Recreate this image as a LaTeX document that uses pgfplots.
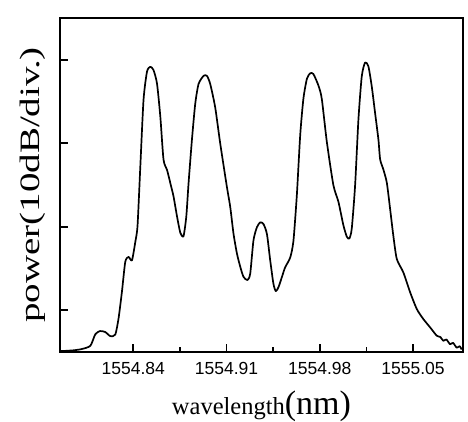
\documentclass[border=0pt]{standalone}
\usepackage{fontspec}
\setmainfont{Liberation Serif}
\setsansfont{Liberation Sans}
\usepackage{pgfplots}
\pgfplotsset{compat=1.18}
\begin{document}
\begin{tikzpicture}
\begin{axis}[
  at={(0,0)}, anchor=south west,
  scale only axis,
  width=403pt, height=334pt,
  xmin=1554.785, xmax=1555.0875,
  ymin=-45, ymax=-5,
  axis line style={line width=2.4pt},
  xtick={1554.84,1554.91,1554.98,1555.05},
  xticklabels={1554.84,1554.91,1554.98,1555.05},
  minor x tick num=1,
  ytick={-40,-30,-20,-10},
  yticklabels={},
  tick align=inside,
  xtick pos=bottom, ytick pos=left,
  major tick length=8pt, minor tick length=5pt,
  tick style={line width=1.6pt, black},
  x tick label style={font=\fontsize{17.5}{17.5}\selectfont\sffamily, yshift=-7pt},
  /pgf/number format/assume math mode=true,
  xlabel={{\fontsize{24.5}{25}\selectfont wavelength}{\fontsize{34}{34}\selectfont(nm)}},
  xlabel style={at={(rel axis cs:0.5,0)}, anchor=base, yshift=-62pt},
  ylabel={\scalebox{1}[0.72]{\fontsize{39}{39}\selectfont power(10dB/div.)}},
  ylabel style={at={(rel axis cs:0,0.5)}, anchor=center, yshift=27pt},
]
\addplot[black, line width=1.7pt, line join=round, smooth, tension=0.4] coordinates {
(1554.785,-44.9) (1554.795,-44.8) (1554.8015,-44.64) (1554.8078,-44.25) (1554.8115,-42.88)
(1554.815,-42.49) (1554.819,-42.61) (1554.8228,-43.10) (1554.8265,-42.91) (1554.829,-40.93)
(1554.8315,-37.77) (1554.834,-34.2) (1554.8365,-33.61) (1554.839,-34.02) (1554.8415,-31.84)
(1554.8432,-29.87) (1554.8453,-22.73) (1554.8477,-14.8) (1554.8503,-11.43) (1554.8528,-10.84)
(1554.8552,-11.24) (1554.8578,-12.84) (1554.8603,-16.81) (1554.8627,-21.96) (1554.8653,-23.17)
(1554.8678,-24.76) (1554.8702,-26.35) (1554.8728,-28.73) (1554.8753,-30.72) (1554.8777,-31.13)
(1554.8798,-28.75) (1554.8815,-24.78) (1554.884,-19.63) (1554.8865,-15.28) (1554.889,-12.9)
(1554.8928,-11.92) (1554.8953,-11.93) (1554.8978,-12.92) (1554.9015,-15.72) (1554.9053,-20.07)
(1554.9103,-25.25) (1554.9128,-27.64) (1554.9152,-30.8) (1554.9178,-33.2) (1554.9203,-34.79)
(1554.9227,-35.99) (1554.9257,-36.39) (1554.9278,-35.6) (1554.9302,-31.64) (1554.9328,-30.06)
(1554.9353,-29.47) (1554.9377,-29.67) (1554.9403,-30.86) (1554.9428,-34.04) (1554.9452,-36.83)
(1554.947,-37.71) (1554.949,-37.23) (1554.9515,-36.05) (1554.954,-34.86) (1554.9578,-33.69)
(1554.9602,-31.71) (1554.9628,-26.15) (1554.9653,-19.02) (1554.9677,-14.67) (1554.9703,-12.29)
(1554.9728,-11.62) (1554.9752,-11.71) (1554.979,-13.1) (1554.9815,-14.69) (1554.9853,-19.86)
(1554.9902,-25.02) (1554.994,-27.02) (1554.9977,-29.81) (1555.0003,-31.2) (1555.0022,-31.4)
(1555.004,-30.22) (1555.0065,-25.06) (1555.009,-17.14) (1555.0115,-11.98) (1555.014,-10.33)
(1555.0165,-10.8) (1555.019,-13.19) (1555.0215,-16.37) (1555.024,-19.56) (1555.0253,-21.94)
(1555.0277,-23.13) (1555.0303,-24.72) (1555.0328,-27.9) (1555.0352,-31.08) (1555.0378,-33.86)
(1555.0427,-35.46) (1555.0478,-37.85) (1555.0528,-39.85) (1555.0577,-41.05) (1555.0628,-42.05)
(1555.0678,-43.05) (1555.0705,-43.2) (1555.0727,-43.66) (1555.075,-43.5) (1555.0778,-44.07)
(1555.080,-43.9) (1555.0828,-44.48) (1555.0850,-44.3) (1555.0865,-44.7)
};
\end{axis}
\pgfresetboundingbox
\path[use as bounding box] (-60pt,-69pt) rectangle (408pt,352pt);
\end{tikzpicture}
\end{document}
